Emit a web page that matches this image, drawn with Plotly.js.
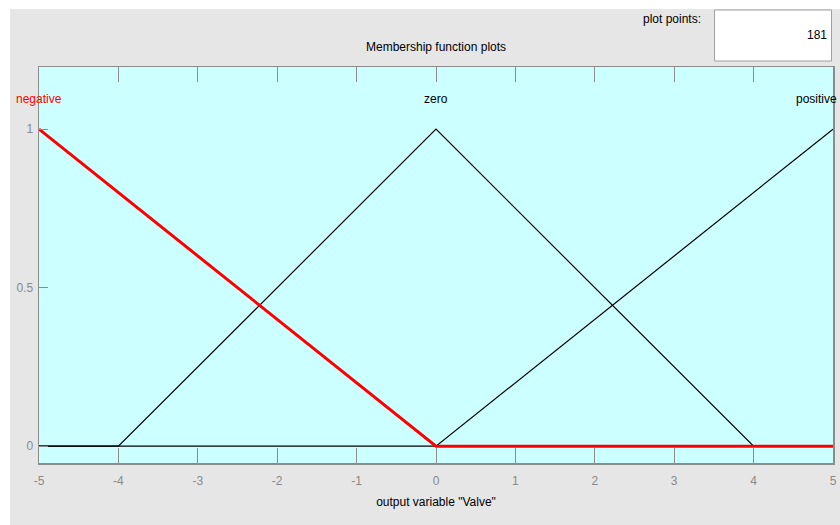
<!DOCTYPE html>
<html>
<head>
<meta charset="utf-8">
<script src="https://cdn.plot.ly/plotly-3.0.1.min.js"></script>
<style>
html, body { margin: 0; padding: 0; background: #ffffff; width: 840px; height: 525px; overflow: hidden; }
#chart { position: absolute; left: 10px; top: 9px; width: 830px; height: 516px; }
</style>
</head>
<body>
<div id="chart"></div>
<script>
// Membership functions of output variable "Valve"
const negX = [-5, 0, 5];
const negY = [1, 0, 0];
const zeroX = [-5, -4, 0, 4, 5];
const zeroY = [0, 0, 1, 0, 0];
const posX = [-5, 0, 5];
const posY = [0, 0, 1];
const mfNames = ["negative", "zero", "positive"];
const mfCenters = [-5, 0, 5];
const xTicks = [-5, -4, -3, -2, -1, 0, 1, 2, 3, 4, 5];
const yTicks = [0, 0.5, 1];
const plotPoints = "181";

const FONT = "Liberation Sans, Arial, sans-serif";

const traces = [
  { x: zeroX, y: zeroY, mode: "lines", line: { color: "#000000", width: 1.2 }, hoverinfo: "skip" },
  { x: posX, y: posY, mode: "lines", line: { color: "#000000", width: 1.2 }, hoverinfo: "skip" },
  { x: negX, y: negY, mode: "lines", line: { color: "#ff0000", width: 3 }, hoverinfo: "skip" }
];

const pw = 830 - 29 - 7, ph = 516 - 58 - 62;
const px = (X) => (X - 10 - 29) / pw;        // page x -> paper x
const py = (Y) => (516 - 62 - (Y - 9)) / ph; // page y -> paper y

const annotations = mfNames.map((n, i) => {
  const a = {
    x: mfCenters[i], xref: "x", y: 1.095, yref: "y",
    text: n, showarrow: false, xanchor: "center", yanchor: "middle",
    font: { family: FONT, size: 12, color: i === 0 ? "#ff0000" : "#000000" }
  };
  if (i === mfNames.length - 1) { a.x = px(839); a.xref = "paper"; a.xanchor = "right"; }
  return a;
});

annotations.push(
  { x: px(436), xref: "paper", y: py(47), yref: "paper", text: "Membership function plots",
    showarrow: false, xanchor: "center", yanchor: "middle",
    font: { family: FONT, size: 12, color: "#000000" } },
  { x: px(703), xref: "paper", y: py(19), yref: "paper", text: "plot points:",
    showarrow: false, xanchor: "right", yanchor: "middle",
    font: { family: FONT, size: 12, color: "#000000" } },
  { x: px(829), xref: "paper", y: py(35), yref: "paper", text: plotPoints,
    showarrow: false, xanchor: "right", yanchor: "middle",
    font: { family: FONT, size: 12, color: "#000000" } }
);

const layout = {
  width: 830, height: 516,
  margin: { l: 29, r: 7, t: 58, b: 62 },
  paper_bgcolor: "#e6e6e6",
  plot_bgcolor: "#ccffff",
  showlegend: false,
  font: { family: FONT, size: 12, color: "#000000" },
  xaxis: {
    range: [-5, 5], tickvals: xTicks, ticktext: xTicks.map(String),
    ticks: "inside", ticklen: 15, tickcolor: "#8c8c8c", tickwidth: 1,
    showline: true, linecolor: "#8c8c8c", linewidth: 1.5, mirror: "allticks",
    showgrid: false, zeroline: false,
    tickfont: { family: FONT, size: 12, color: "#8a8a8a" },
    ticklabelstandoff: 6,
    title: { text: 'output variable "Valve"', font: { family: FONT, size: 12, color: "#000000" }, standoff: 10 }
  },
  yaxis: {
    range: [-0.053, 1.196], tickvals: yTicks, ticktext: ["0", "0.5", "1"],
    ticks: "inside", ticklen: 9, tickcolor: "#8c8c8c", tickwidth: 1,
    showline: true, linecolor: "#8c8c8c", linewidth: 1.5, mirror: true,
    showgrid: false, zeroline: false,
    tickfont: { family: FONT, size: 12, color: "#8a8a8a" },
    ticklabelstandoff: 2
  },
  annotations: annotations,
  shapes: [{
    type: "rect", xref: "paper", yref: "paper",
    x0: px(714.5), x1: px(831.5), y0: py(61), y1: py(10),
    fillcolor: "#ffffff", line: { color: "#a0a0a0", width: 1 }, layer: "above"
  }]
};

Plotly.newPlot("chart", traces, layout, { staticPlot: true, displayModeBar: false });
</script>
</body>
</html>
